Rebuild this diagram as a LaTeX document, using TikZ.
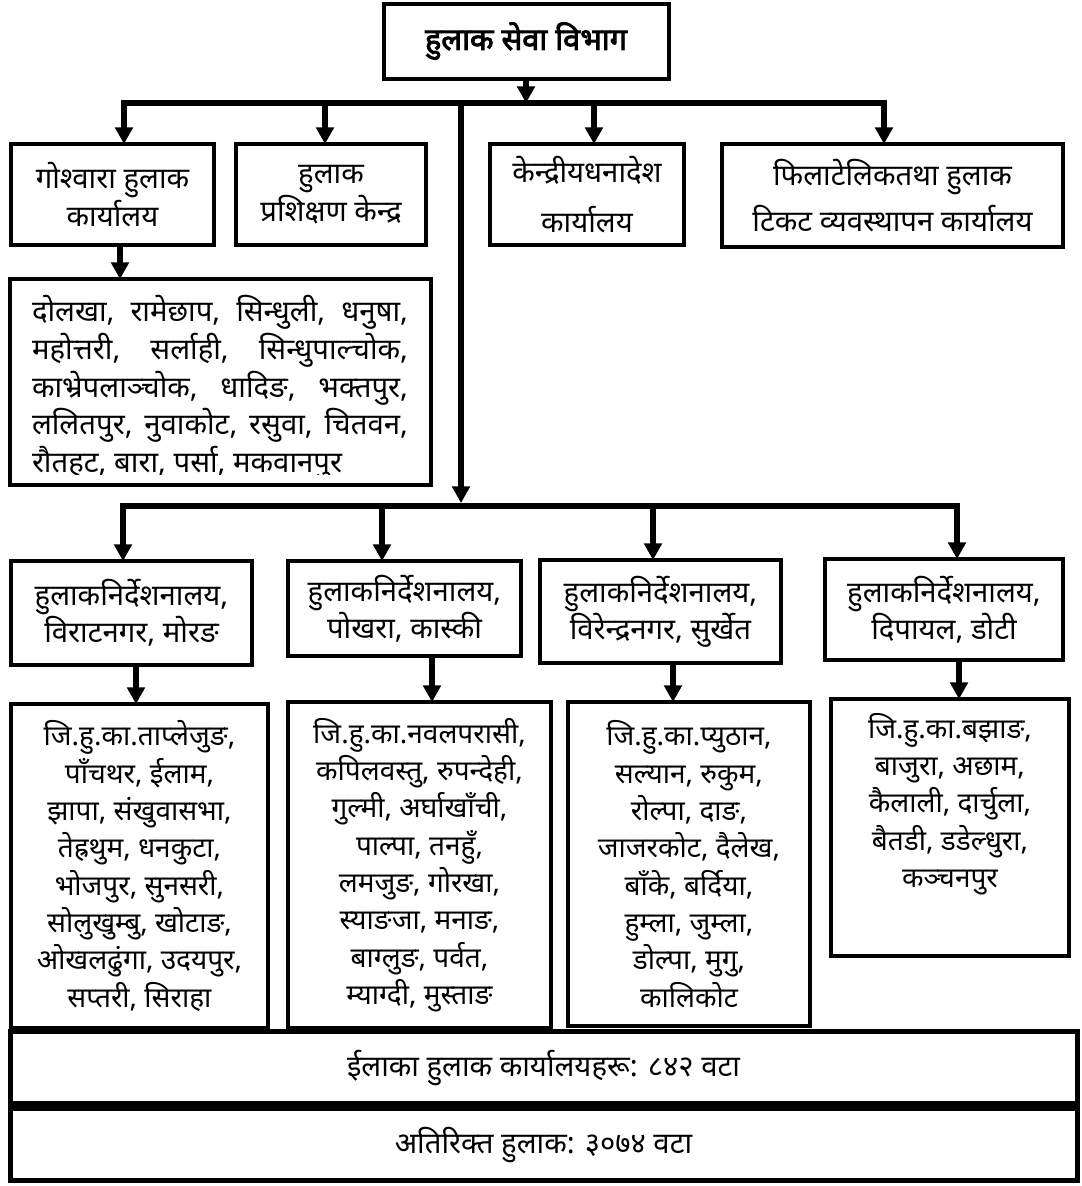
\documentclass[tikz,border=0pt]{standalone}
\usepackage{fontspec}
\setmainfont[Script=Devanagari]{Noto Sans}
\newfontfamily\titlefont[Script=Devanagari, FakeBold=3]{Noto Sans}
\usetikzlibrary{arrows.meta}
\begin{document}
\begin{tikzpicture}[x=0.75pt,y=-0.75pt,
  bx/.style={draw, line width=2.6pt, inner sep=0pt, outer sep=0pt, align=center},
  sz/.style 2 args={minimum width=#1*0.75pt, minimum height=#2*0.75pt},
  conn/.style={line width=4pt},
  arr/.style={line width=4pt, -{Triangle[width=13pt,length=12.5pt]}},
  txt/.style={inner sep=0pt, align=center},
  fA/.style={font=\fontsize{22}{29}\selectfont},
  fL/.style={font=\fontsize{21}{28}\selectfont}
]
\useasboundingbox (0,0) rectangle (1082,1186);

% ---------- top ----------
\node[bx, line width=3pt, sz={285}{75}, font=\titlefont\fontsize{23}{28}\selectfont] (top) at (526,41) {हुलाक सेवा विभाग};

% ---------- first row ----------
\node[bx, fA, sz={203}{101}] (b1) at (112.5,194.5) {गोश्वारा हुलाक\\कार्यालय};
\node[bx, fA, sz={190}{101}] (b2) at (331,194.5) {हुलाक\\प्रशिक्षण केन्द्र};
\node[bx, font=\fontsize{22}{37}\selectfont, sz={194}{101}] (b3) at (587,194.5) {केन्द्रीयधनादेश\\कार्यालय};
\node[bx, font=\fontsize{22}{34}\selectfont, sz={341}{103}] (b4) at (892.5,195.5) {फिलाटेलिकतथा हुलाक\\टिकट व्यवस्थापन कार्यालय};

% ---------- list under b1 ----------
\node[bx, sz={421}{206}] (lst) at (220.5,382) {};
\coordinate (clipy) at (0,474);
\begin{scope}
\clip (lst.north west) rectangle (lst.east |- clipy);
\node[inner sep=0pt, align=left, font=\fontsize{22}{28.3}\selectfont] (lsttx) at (220,388)
{\makebox[282pt][s]{दोलखा, रामेछाप, सिन्धुली, धनुषा,}\\
 \makebox[282pt][s]{महोत्तरी, सर्लाही, सिन्धुपाल्चोक,}\\
 \makebox[282pt][s]{काभ्रेपलाञ्चोक, धादिङ, भक्तपुर,}\\
 \makebox[282pt][s]{ललितपुर, नुवाकोट, रसुवा, चितवन,}\\
 रौतहट, बारा, पर्सा, मकवानपुर};
\end{scope}

% ---------- directorates ----------
\node[bx, font=\fontsize{22}{26}\selectfont, sz={241}{104}] (m1) at (131.5,613) {हुलाकनिर्देशनालय,\\विराटनगर, मोरङ};
\node[bx, font=\fontsize{22}{26}\selectfont, sz={233}{95}] (m2) at (404.5,608.5) {हुलाकनिर्देशनालय,\\पोखरा, कास्की};
\node[bx, font=\fontsize{22}{26}\selectfont, sz={241}{103}] (m3) at (660.5,611.5) {हुलाकनिर्देशनालय,\\विरेन्द्रनगर, सुर्खेत};
\node[bx, font=\fontsize{22}{26}\selectfont, sz={238}{101}] (m4) at (944,609.5) {हुलाकनिर्देशनालय,\\दिपायल, डोटी};

% ---------- district lists ----------
\node[bx, fL, sz={257}{324}] (l1) at (139.5,866) {जि.हु.का.ताप्लेजुङ,\\पाँचथर, ईलाम,\\झापा, संखुवासभा,\\तेह्रथुम, धनकुटा,\\भोजपुर, सुनसरी,\\सोलुखुम्बु, खोटाङ,\\ओखलढुंगा, उदयपुर,\\सप्तरी, सिराहा};
\node[bx, fL, sz={263}{326}] (l2) at (419.5,865) {जि.हु.का.नवलपरासी,\\कपिलवस्तु, रुपन्देही,\\गुल्मी, अर्घाखाँची,\\पाल्पा, तनहुँ,\\लमजुङ, गोरखा,\\स्याङजा, मनाङ,\\बाग्लुङ, पर्वत,\\म्याग्दी, मुस्ताङ};
\node[bx, fL, sz={242}{324}] (l3) at (689,864) {जि.हु.का.प्युठान,\\सल्यान, रुकुम,\\रोल्पा, दाङ,\\जाजरकोट, दैलेख,\\बाँके, बर्दिया,\\हुम्ला, जुम्ला,\\डोल्पा, मुगु,\\कालिकोट};
\node[bx, sz={238}{257}] (l4) at (950,827.5) {};
\node[txt, fL] (l4tx) at (950,804) {जि.हु.का.बझाङ,\\बाजुरा, अछाम,\\कैलाली, दार्चुला,\\बैतडी, डडेल्धुरा,\\कञ्चनपुर};

% ---------- bottom ----------
\node[bx, line width=3.75pt, fA, sz={1067}{72}] (bt1) at (543.5,1067.5) {ईलाका हुलाक कार्यालयहरू: ८४२ वटा};
\node[bx, line width=3.75pt, fA, sz={1067}{72}] (bt2) at (543.5,1144.5) {अतिरिक्त हुलाक: ३०७४ वटा};

% ---------- connectors ----------
\coordinate (j0) at (526,103);
\draw[arr] (top.south) -- (j0);
\coordinate (c1) at (124,103);
\coordinate (c2) at (325,103);
\coordinate (c3) at (594,103);
\coordinate (c4) at (884,103);
\draw[conn, line cap=rect] (c1) -- (c4);
\draw[arr] (c1) -- (c1 |- b1.north);
\draw[arr] (c2) -- (c2 |- b2.north);
\draw[arr] (c3) -- (c3 |- b3.north);
\draw[arr] (c4) -- (c4 |- b4.north);

\coordinate (a1) at (120,0);
\draw[arr] (a1 |- b1.south) -- (a1 |- lst.north);

\coordinate (t0) at (461,103);
\coordinate (t1) at (461,503);
\draw[arr] (t0) -- (t1);

\coordinate (e1) at (123,506);
\coordinate (e2) at (382,506);
\coordinate (e3) at (653,506);
\coordinate (e4) at (957,506);
\draw[conn, line cap=rect] (e1) -- (e4);
\draw[arr] (e1) -- (e1 |- m1.north);
\draw[arr] (e2) -- (e2 |- m2.north);
\draw[arr] (e3) -- (e3 |- m3.north);
\draw[arr] (e4) -- (e4 |- m4.north);

\coordinate (k1) at (136,0);
\coordinate (k2) at (432,0);
\coordinate (k3) at (673,0);
\coordinate (k4) at (959,0);
\draw[arr] (k1 |- m1.south) -- (k1 |- l1.north);
\draw[arr] (k2 |- m2.south) -- (k2 |- l2.north);
\draw[arr] (k3 |- m3.south) -- (k3 |- l3.north);
\draw[arr] (k4 |- m4.south) -- (k4 |- l4.north);
\end{tikzpicture}
\end{document}
